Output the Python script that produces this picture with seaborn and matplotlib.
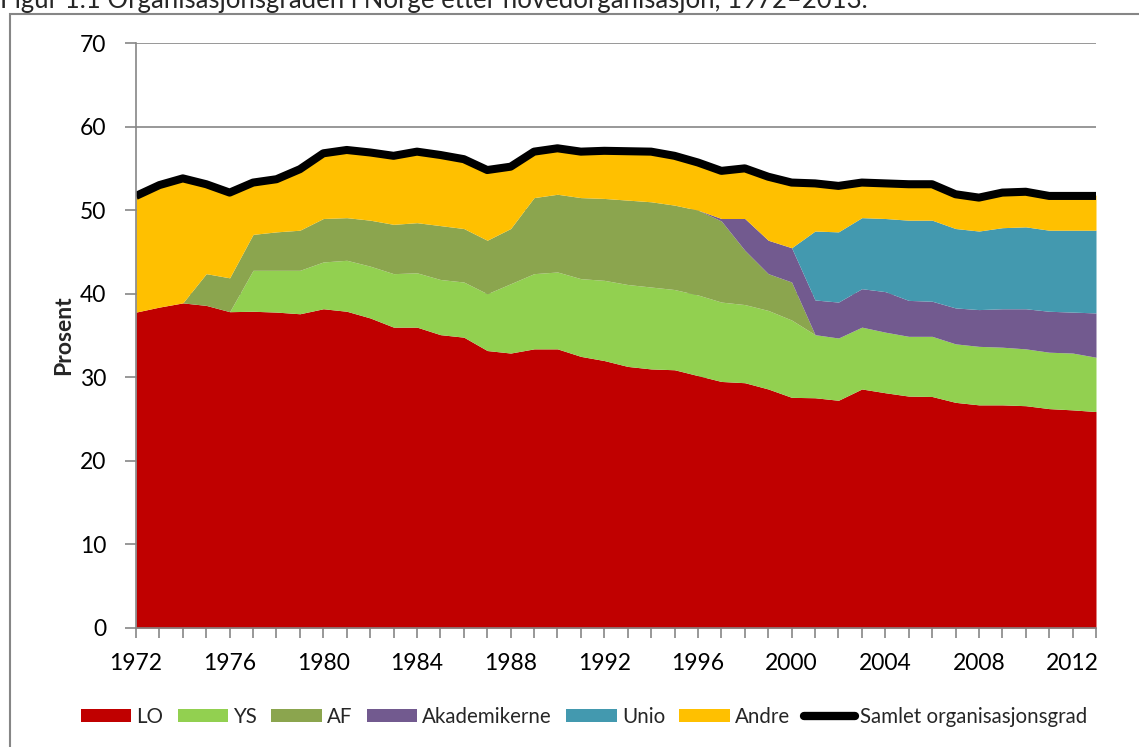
import numpy as np
import pandas as pd
import matplotlib
matplotlib.use("Agg")
import matplotlib.pyplot as plt
import seaborn as sns
from matplotlib.patches import Patch, Rectangle
from matplotlib.lines import Line2D

years = list(range(1972, 2014))

lo = [37.8, 38.4, 38.9, 38.6, 37.85, 37.9, 37.8, 37.6, 38.2, 37.9,
      37.1, 36.0, 36.0, 35.1, 34.8, 33.2, 32.9, 33.4, 33.4, 32.5,
      32.0, 31.3, 31.0, 30.9, 30.2, 29.5, 29.35, 28.6, 27.6, 27.55,
      27.25, 28.6, 28.15, 27.75, 27.7, 27.0, 26.7, 26.7, 26.6, 26.25,
      26.1, 25.9]
ys = [0, 0, 0, 0, 0, 4.9, 5.0, 5.2, 5.6, 6.1,
      6.2, 6.4, 6.5, 6.6, 6.6, 6.8, 8.3, 9.0, 9.2, 9.3,
      9.6, 9.8, 9.8, 9.6, 9.65, 9.5, 9.35, 9.4, 9.25, 7.55,
      7.45, 7.4, 7.25, 7.15, 7.2, 7.0, 7.0, 6.9, 6.8, 6.75,
      6.8, 6.5]
af = [0, 0, 0, 3.8, 4.05, 4.3, 4.6, 4.8, 5.2, 5.1,
      5.5, 5.9, 6.0, 6.45, 6.4, 6.4, 6.6, 9.1, 9.3, 9.7,
      9.8, 10.1, 10.2, 10.1, 10.15, 9.7, 6.5, 4.4, 4.55, 0,
      0, 0, 0, 0, 0, 0, 0, 0, 0, 0,
      0, 0]
akademikerne = [0] * 25 + [0.3, 3.8, 4.0, 4.1, 4.15,
                           4.3, 4.6, 4.85, 4.3, 4.2, 4.3, 4.4, 4.6, 4.8, 4.9,
                           4.9, 5.3]
unio = [0] * 29 + [8.25, 8.4, 8.5, 8.75, 9.6, 9.7, 9.5, 9.4, 9.7, 9.8,
                   9.7, 9.8, 9.9]
andre = [14.0, 14.7, 15.0, 10.8, 10.3, 6.3, 6.4, 7.4, 7.9, 8.2,
         8.2, 8.3, 8.6, 8.55, 8.4, 8.5, 7.5, 5.6, 5.6, 5.6,
         5.8, 5.95, 6.1, 6.0, 5.8, 5.8, 6.1, 7.7, 7.9, 5.8,
         5.6, 4.3, 4.3, 4.4, 4.4, 4.2, 4.1, 4.3, 4.3, 4.2,
         4.2, 4.2]
samlet = [51.7, 53.0, 53.8, 53.1, 52.1, 53.3, 53.7, 54.9, 56.8, 57.2,
          56.9, 56.5, 57.0, 56.6, 56.1, 54.8, 55.2, 57.0, 57.4, 57.0,
          57.1, 57.05, 57.0, 56.5, 55.7, 54.7, 55.0, 54.0, 53.3, 53.2,
          52.9, 53.3, 53.2, 53.1, 53.1, 51.9, 51.5, 52.1, 52.2, 51.7,
          51.7, 51.7]

series_names = ["LO", "YS", "AF", "Akademikerne", "Unio", "Andre"]
series_colors = ["#C00000", "#92D050", "#8BA54E", "#725A8F", "#4399AF", "#FFC000"]
total_name = "Samlet organisasjonsgrad"
title_text = "Figur 1.1 Organisasjonsgraden i Norge etter hovedorganisasjon, 1972–2013."

df = pd.DataFrame({"År": years, total_name: samlet})

sns.set_theme(style="white")
plt.rcParams["font.family"] = ["Lato", "DejaVu Sans"]

fig = plt.figure(figsize=(11.39, 7.47), dpi=100)
ax = fig.add_axes([136 / 1139, 1 - 628 / 747, 960 / 1139, 585 / 747])

grid_col = "#868686"
ax.set_axisbelow(True)
ax.yaxis.grid(True, color=grid_col, lw=1.2)

ax.stackplot(years, lo, ys, af, akademikerne, unio, andre,
             colors=series_colors, labels=series_names, lw=0)
sns.lineplot(data=df, x="År", y=total_name, ax=ax, color="black", lw=5.8,
             solid_joinstyle="round", solid_capstyle="butt", legend=False)

ax.set_xlim(1972, 2013)
ax.set_ylim(0, 70)
ax.set_xticks(range(1972, 2014, 4))
ax.set_xticks(range(1972, 2014), minor=True)
ax.set_yticks(range(0, 71, 10))
ax.tick_params(axis="both", which="both", direction="out", color=grid_col,
               width=1.2, labelsize=16.5, labelcolor="black")
ax.tick_params(axis="x", which="both", length=7, bottom=True, pad=11)
ax.tick_params(axis="y", length=8, left=True, pad=13.5)
ax.set_xlabel("")
ax.set_ylabel("Prosent", fontsize=16.5, fontweight="bold", labelpad=4)

for side in ["top", "right"]:
    ax.spines[side].set_visible(False)
for side in ["left", "bottom"]:
    ax.spines[side].set_color(grid_col)
    ax.spines[side].set_linewidth(1.2)

handles = [Patch(facecolor=c, edgecolor="none", label=n)
           for n, c in zip(series_names, series_colors)]
handles.append(Line2D([0], [0], color="black", lw=6, solid_capstyle="round",
                      label=total_name))
fig.legend(handles=handles, loc="center", bbox_to_anchor=(584 / 1139, 1 - 717 / 747),
           ncol=7, frameon=False, fontsize=14.8, handlelength=2.45, handleheight=0.6,
           handletextpad=0.25, columnspacing=0.7, borderaxespad=0)

fig.add_artist(Rectangle((9.5 / 1139, -0.2), 1.5, 1.2 - 13.5 / 747,
                         transform=fig.transFigure, fill=False,
                         edgecolor=grid_col, lw=1.5, clip_on=False))
fig.text(0.0, 1 - 8 / 747, title_text, fontsize=18.5, ha="left", va="baseline")

fig.savefig("out.png", dpi=100)
